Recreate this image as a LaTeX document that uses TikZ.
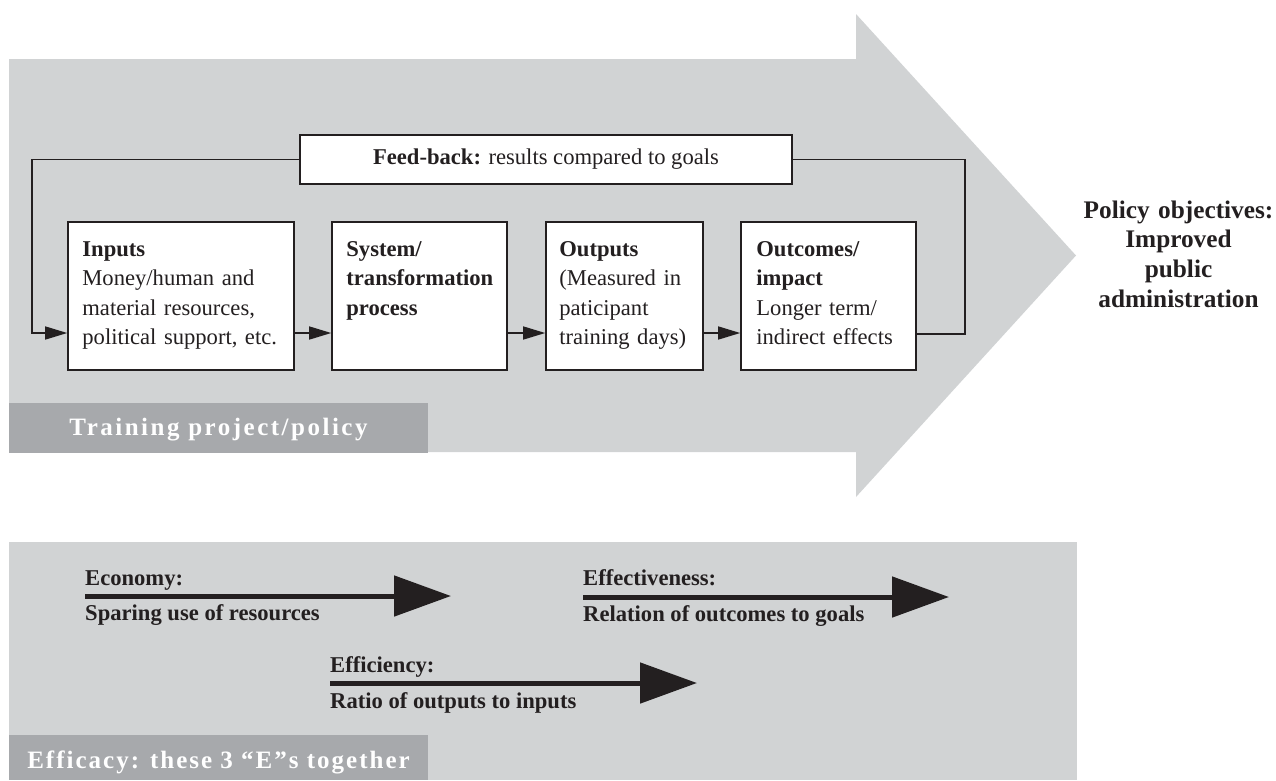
\documentclass[tikz,border=0pt]{standalone}
\usepackage{fontspec}
\setmainfont{Liberation Serif}
\usetikzlibrary{arrows.meta,calc}
\definecolor{bgray}{HTML}{D1D3D4}
\definecolor{lgray}{HTML}{A7A9AC}
\definecolor{ink}{HTML}{231F20}
\tikzset{
  box/.style={draw=ink, line width=1.6pt, fill=white, inner sep=0pt, minimum height=148pt},
  btext/.style={anchor=north west, inner sep=0pt, text width=205pt, align=left, text=ink,
    font=\fontsize{22.6}{29.3}\selectfont},
  fbbox/.style={draw=ink, line width=1.6pt, fill=white, inner sep=0pt, minimum width=492pt,
    minimum height=49pt, text=ink, font=\fontsize{22.6}{27}\selectfont},
  conn/.style={draw=ink, line width=1.5pt, -{Triangle[length=22pt,width=13pt]}},
  plainline/.style={draw=ink, line width=1.5pt},
  thickarrow/.style={draw=ink, line width=5pt, -{Triangle[length=57pt,width=40pt]}},
  etext/.style={inner sep=0pt, anchor=base west, text=ink, font=\bfseries\fontsize{22.6}{27}\selectfont},
  labbox/.style={fill=lgray, inner sep=0pt, anchor=north west, minimum width=419pt},
}
\begin{document}
\begin{tikzpicture}[x=1pt,y=-1pt]
\useasboundingbox (0,0) rectangle (1276,780);
% big gray arrow
\fill[bgray] (9,59) -- (856,59) -- (856,14) -- (1076,255.5) -- (856,497) -- (856,452) -- (9,452) -- cycle;
% bottom panel
\fill[bgray] (9,542) rectangle (1077,780);

% process boxes
\node[box, minimum width=226pt] (inp) at (181,296) {};
\node[box, minimum width=175pt] (sys) at (419.5,296) {};
\node[box, minimum width=157pt] (out) at (624.5,296) {};
\node[box, minimum width=175pt] (outc) at (828.5,296) {};

\node[btext] (inpT) at ([xshift=15pt,yshift=-15pt]inp.north west)
  {\rule{0pt}{20pt}\textbf{Inputs}\\Money/human and\\material resources,\\political support, etc.};
\node[btext] (sysT) at ([xshift=15pt,yshift=-15pt]sys.north west)
  {\rule{0pt}{20pt}\textbf{System/}\\\textbf{transformation}\\\textbf{process}};
\node[btext] (outT) at ([xshift=14pt,yshift=-15pt]out.north west)
  {\rule{0pt}{20pt}\textbf{Outputs}\\(Measured in\\paticipant\\training days)};
\node[btext] (outcT) at ([xshift=16pt,yshift=-15pt]outc.north west)
  {\rule{0pt}{20pt}\textbf{Outcomes/}\\\textbf{impact}\\Longer term/\\indirect effects};

% feedback box
\node[fbbox] (fb) at (546,159.5) {\textbf{Feed-back:} results compared to goals};

% connectors between boxes
\draw[conn] ([yshift=-37pt]inp.east) -- ([yshift=-37pt]sys.west);
\draw[conn] ([yshift=-37pt]sys.east) -- ([yshift=-37pt]out.west);
\draw[conn] ([yshift=-37pt]out.east) -- ([yshift=-37pt]outc.west);

% feedback loop
\coordinate (fbL) at (32,300);
\coordinate (fbR) at (965,300);
\coordinate (inpIn) at ([yshift=-37pt]inp.west);
\coordinate (outcOut) at ([yshift=-38pt]outc.east);
\draw[plainline] (outcOut) -- (outcOut -| fbR) -- (fbR |- fb.east) -- (fb.east);
\draw[conn] (fb.west) -- (fb.west -| fbL) -- (fbL |- inpIn) -- (inpIn);

% policy objectives
\node[anchor=north, inner sep=0pt, text width=200pt, align=center, text=ink,
  font=\bfseries\fontsize{25.3}{29.7}\selectfont] (pol) at (1178.5,196)
  {\rule{0pt}{22pt}Policy objectives:\\Improved\\public\\administration};

% label: training project/policy
\node[labbox, minimum height=50pt] (tpbox) at (9,403) {};
\node[inner sep=0pt, anchor=base, text=white,
  font={\bfseries\fontsize{25}{29}\selectfont\addfontfeature{LetterSpace=10}}] (tp)
  at (218.5,435) {Training project/policy};

% three E arrows
\coordinate (ecoS) at (85,596);
\coordinate (ecoE) at (451,596);
\draw[thickarrow] (ecoS) -- (ecoE);
\node[etext] (ecoT) at (85,585) {Economy:};
\node[etext] (ecoD) at (85,620) {Sparing use of resources};

\coordinate (effiS) at (330,683);
\coordinate (effiE) at (697,683);
\draw[thickarrow] (effiS) -- (effiE);
\node[etext] (effiT) at (330,672) {Efficiency:};
\node[etext] (effiD) at (330,708) {Ratio of outputs to inputs};

\coordinate (effeS) at (583,597);
\coordinate (effeE) at (949,597);
\draw[thickarrow] (effeS) -- (effeE);
\node[etext] (effeT) at (583,585) {Effectiveness:};
\node[etext] (effeD) at (583,621) {Relation of outcomes to goals};

% label: efficacy
\node[labbox, minimum height=45pt] (efbox) at (9,735) {};
\node[inner sep=0pt, anchor=base, text=white,
  font={\bfseries\fontsize{25}{29}\selectfont\addfontfeature{LetterSpace=8}}] (efT)
  at (218.5,768) {Efficacy: these 3 “E”s together};
\end{tikzpicture}
\end{document}
